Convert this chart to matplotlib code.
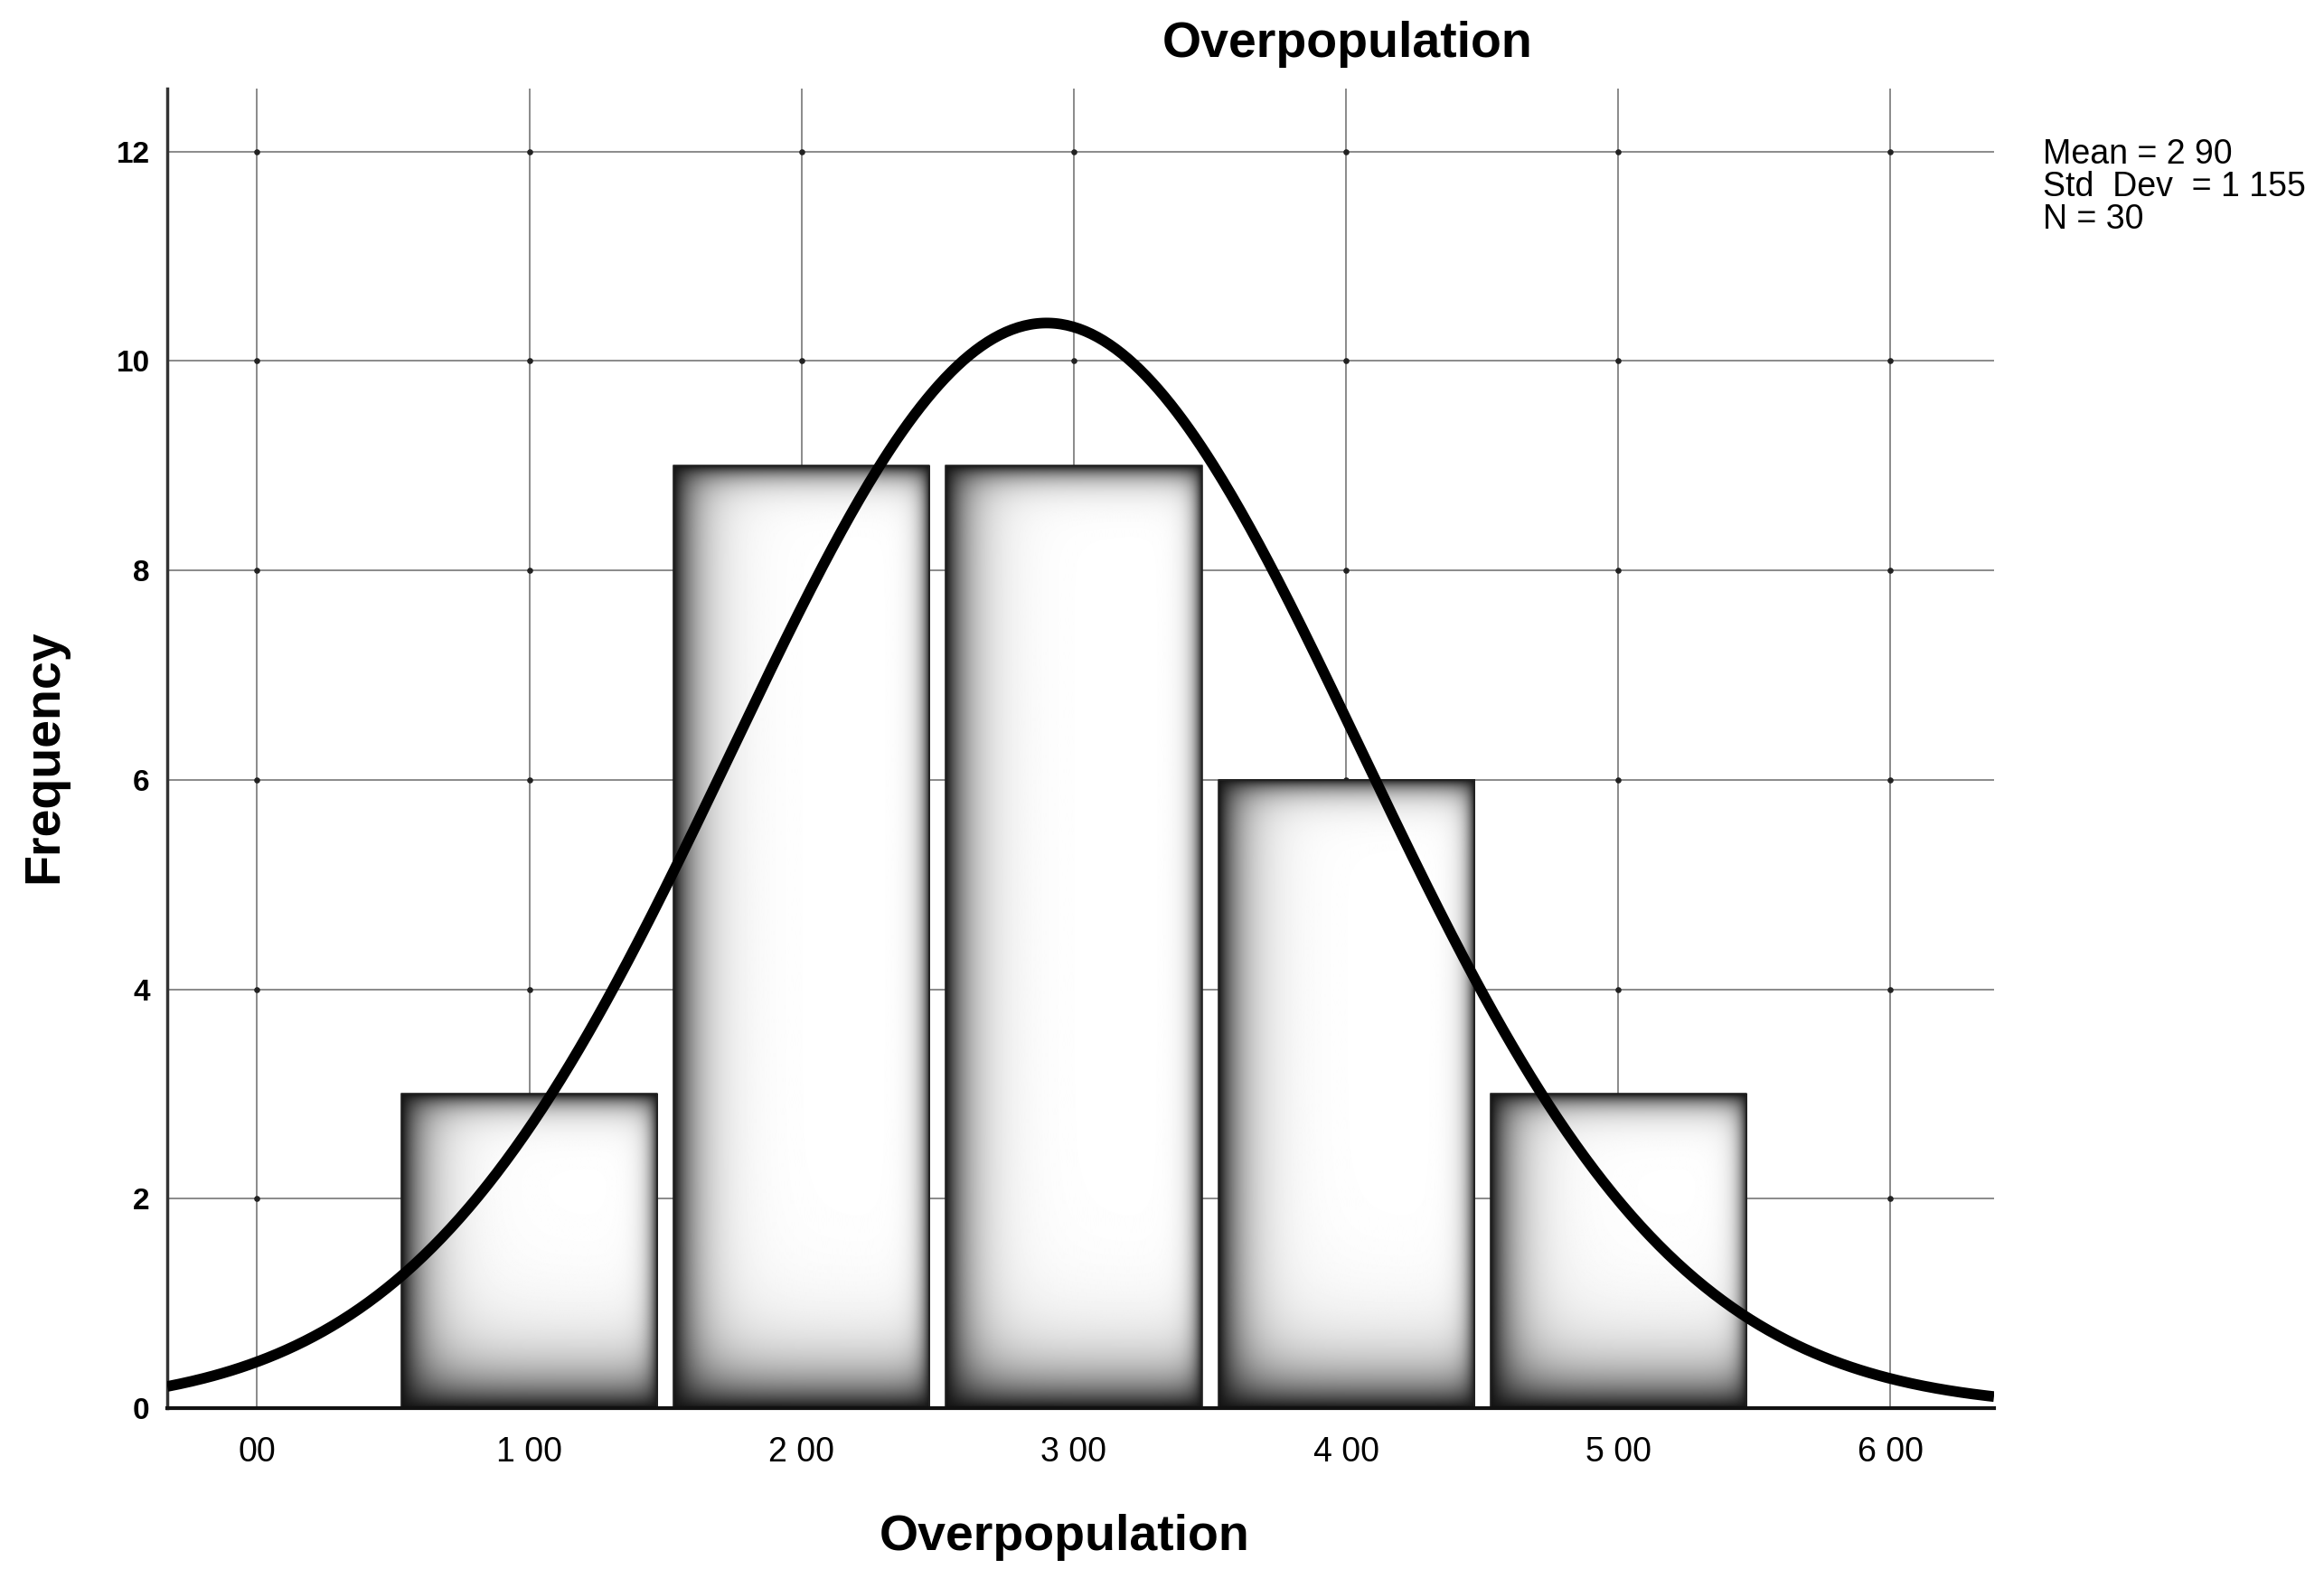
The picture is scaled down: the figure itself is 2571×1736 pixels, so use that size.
import numpy as np
import matplotlib.pyplot as plt

# histogram data
bin_centers = [1, 2, 3, 4, 5]
counts = [3, 9, 9, 6, 3]
mean_val = 2.90
std_val = 1.155
n_total = 30

x_ticks = [0, 1, 2, 3, 4, 5, 6]
x_tick_labels = ["00", "1 00", "2 00", "3 00", "4 00", "5 00", "6 00"]
y_ticks = [0, 2, 4, 6, 8, 10, 12]
stats_lines = ["Mean = 2 90", "Std  Dev  = 1 155", "N = 30"]

plt.rcParams["font.family"] = ["Liberation Sans", "DejaVu Sans"]

fig = plt.figure(figsize=(25.71, 17.36), dpi=100)
ax = fig.add_axes([0.072, 0.1025, 0.786, 0.841])

xmin, xmax = -0.33, 6.38
ymin, ymax = 0, 12.6
px_x = 0.786 * 2571 / (xmax - xmin)
px_y = 0.841 * 1736 / (ymax - ymin)

# grid + dots at the crossings
for xv in x_ticks:
    ax.axvline(xv, color="#777777", lw=1.2, zorder=1)
for yv in y_ticks[1:]:
    ax.axhline(yv, color="#777777", lw=1.2, zorder=1)
gx, gy = np.meshgrid(x_ticks, y_ticks[1:])
ax.scatter(gx.ravel(), gy.ravel(), s=14, color="#222222", zorder=1.5)

# shaded bars (dark edges fading to white inside)
bar_w = 0.94
for c, h in zip(bin_centers, counts):
    l, r = c - bar_w / 2, c + bar_w / 2
    nx = int((r - l) * px_x)
    ny = int(h * px_y)
    xx = np.arange(nx)[None, :] + 0.5
    yy = np.arange(ny)[:, None] + 0.5   # from top
    dl = np.exp(-xx / 26.0)
    dr = np.exp(-(nx - xx) / 9.0)
    dt = np.exp(-yy / 14.0)
    db = np.exp(-(ny - yy) / 38.0)
    dark = 1 - (1 - dl) * (1 - dr) * (1 - dt) * (1 - db)
    img = 1 - 0.92 * dark
    ax.imshow(img, extent=(l, r, 0, h), cmap="gray", vmin=0, vmax=1,
              aspect="auto", interpolation="bilinear", zorder=2)
    ax.plot([l, l, r, r], [0, h, h, 0], color="#222222", lw=1.2, zorder=2.5)

# normal curve from the stated mean / std dev
xs = np.linspace(xmin, xmax, 600)
ys = n_total * 1.0 / (std_val * np.sqrt(2 * np.pi)) * np.exp(-0.5 * ((xs - mean_val) / std_val) ** 2)
ax.plot(xs, ys, color="black", lw=8.5, zorder=3, solid_capstyle="butt")

ax.set_xlim(xmin, xmax)
ax.set_ylim(ymin, ymax)
ax.set_xticks(x_ticks)
ax.set_xticklabels(x_tick_labels, fontsize=27)
ax.set_yticks(y_ticks)
ax.set_yticklabels([str(v) for v in y_ticks], fontsize=24, fontweight="bold")
ax.tick_params(axis="x", length=0, pad=22)
ax.tick_params(axis="y", length=0, pad=14)

for s in ["top", "right"]:
    ax.spines[s].set_visible(False)
ax.spines["left"].set_color("#333333")
ax.spines["left"].set_linewidth(2.5)
ax.spines["bottom"].set_color("#111111")
ax.spines["bottom"].set_linewidth(3)

fig.text(0.58, 0.972, "Overpopulation", fontsize=40, fontweight="bold",
         ha="center", va="center")
fig.text(0.458, 0.02, "Overpopulation", fontsize=40, fontweight="bold",
         ha="center", va="center")
fig.text(0.019, 0.518, "Frequency", fontsize=40, fontweight="bold",
         rotation=90, ha="center", va="center")
fig.text(0.879, 0.912, "\n".join(stats_lines), fontsize=27,
         ha="left", va="top", linespacing=1.0)

fig.savefig("out.png", dpi=100, facecolor="white")
